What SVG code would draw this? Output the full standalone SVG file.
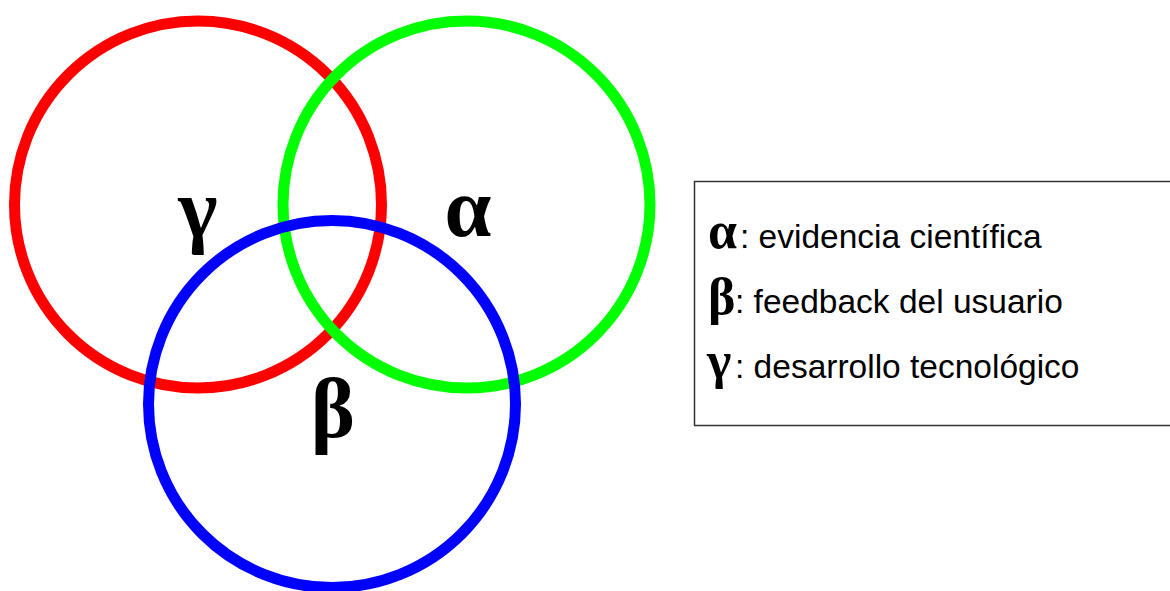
<svg xmlns="http://www.w3.org/2000/svg" width="1170" height="591" viewBox="0 0 1170 591">
<style>
.ring{fill:none;stroke-width:11}
.big{font-family:"Liberation Serif","Times New Roman",serif;font-weight:bold;font-size:84px;fill:#000;text-anchor:middle}
.lg{font-family:"Liberation Serif","Times New Roman",serif;font-weight:bold;font-size:52px;fill:#000}
.lt{font-family:"Liberation Sans",Arial,sans-serif;font-size:33.5px;fill:#000}
</style>
<rect width="1170" height="591" fill="#fff"/>
<g id="gamma-circle">
<circle class="ring" cx="198" cy="204.5" r="183.5" stroke="#ff0000"/>
<text class="big" x="198" y="237">γ</text>
</g>
<g id="alpha-circle">
<circle class="ring" cx="466.5" cy="204.5" r="183.5" stroke="#00ff00"/>
<text class="big" x="468" y="236">α</text>
</g>
<g id="beta-circle">
<circle class="ring" cx="332" cy="404" r="183.5" stroke="#0000ff"/>
<text class="big" x="333" y="437">β</text>
</g>
<g id="connectors"/>
<g id="legend">
<rect x="694.5" y="181.5" width="480" height="244" fill="none" stroke="#333" stroke-width="1.5"/>
<text class="lg" x="708" y="248">α</text>
<text class="lt" x="740" y="248">: evidencia científica</text>
<text class="lg" x="708" y="314">β</text>
<text class="lt" x="735" y="313">: feedback del usuario</text>
<text class="lg" x="707" y="378">γ</text>
<text class="lt" x="735" y="378">: desarrollo tecnológico</text>
</g>
</svg>
